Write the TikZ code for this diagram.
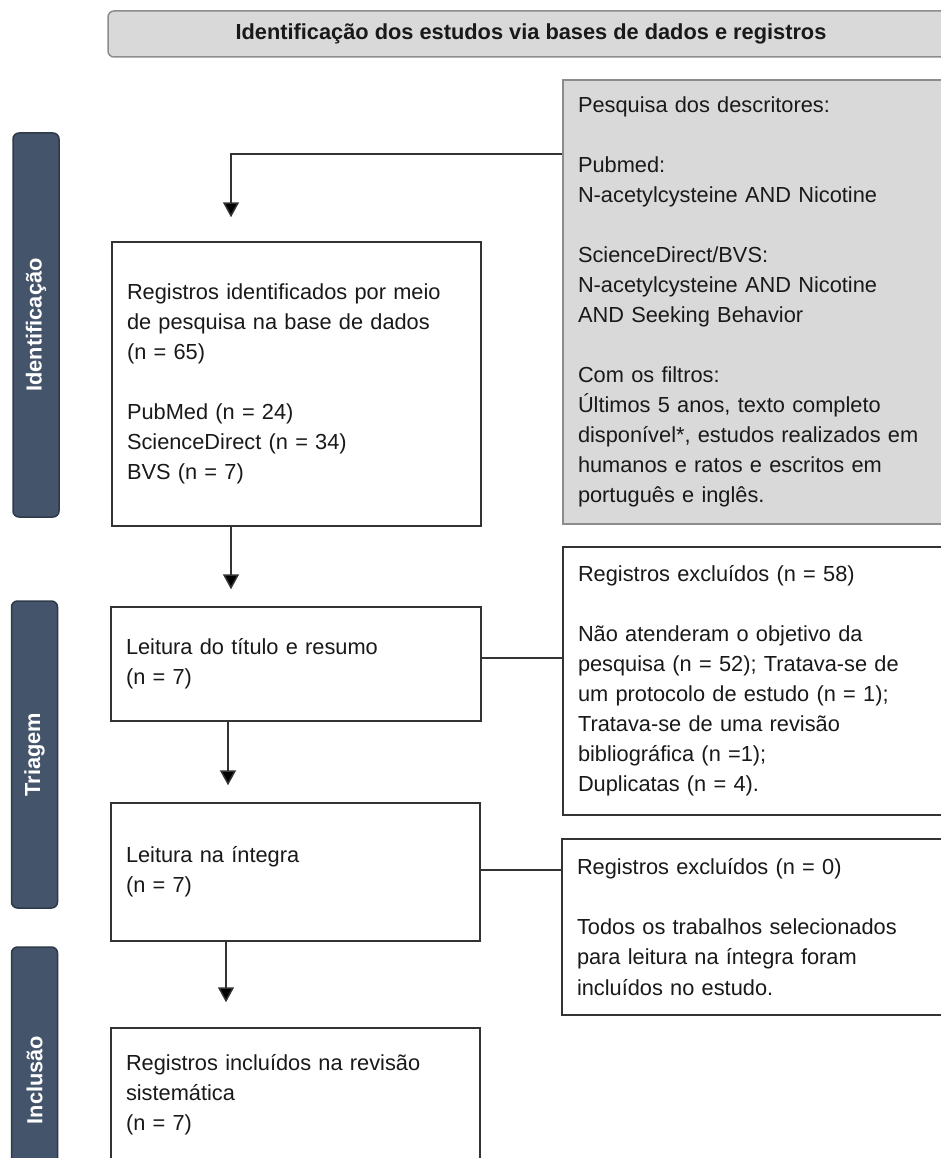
\documentclass[tikz,border=0pt]{standalone}
\usepackage{fontspec}
\setmainfont{Liberation Sans}
\usepackage{xcolor}
\usetikzlibrary{arrows.meta}

\newlength\upx
\setlength\upx{0.02cm}
\definecolor{fasecor}{HTML}{44546A}
\definecolor{fasebord}{HTML}{2E3A4A}
\definecolor{cinza}{HTML}{D9D9D9}
\definecolor{cinzabord}{HTML}{8C8C8C}
\definecolor{borda}{HTML}{333333}

\tikzset{
  texto/.style={font=\fontsize{12.4}{17.1}\selectfont, text=black!90},
  caixa/.style={texto, draw=borda, line width=1.5\upx, fill=white, align=left,
    inner xsep=15\upx, inner ysep=0pt},
  caixacinza/.style={caixa, draw=cinzabord, fill=cinza},
  cabecalho/.style={texto, font=\fontsize{12.4}{17.1}\selectfont\bfseries,
    draw=cinzabord, line width=1.5\upx, fill=cinza, rounded corners=6\upx},
  fase/.style={font=\fontsize{12.4}{17.1}\selectfont\bfseries, text=white,
    draw=fasebord, line width=1.5\upx, fill=fasecor, rounded corners=6\upx,
    rotate=90, minimum height=46\upx},
  linha/.style={draw=borda, line width=1.5\upx},
  seta/.style={linha, -{Triangle[width=0.32cm,length=0.3cm,fill=black]}}
}

\begin{document}
\begin{tikzpicture}[x=0.02cm, y=-0.02cm]
  \useasboundingbox (0,0) rectangle (940,1158);

  \node[cabecalho, minimum width=846\upx, minimum height=46\upx] (cab) at (531,34)
    {Identificação dos estudos via bases de dados e registros};

  % fases
  \node[fase, minimum width=384\upx] (fid) at (36,325) {Identificação};
  \node[fase, minimum width=307\upx] (ftri) at (34.5,754.5) {Triagem};
  \node[fase, minimum width=266\upx] (finc) at (34.5,1080) {Inclusão};

  % caixas
  \node[caixacinza, minimum height=444\upx, text width=357\upx] (desc) at (756.5,302)
    {Pesquisa dos descritores:\\[17.1pt]
     Pubmed:\\
     N-acetylcysteine AND Nicotine\\[17.1pt]
     ScienceDirect/BVS:\\
     N-acetylcysteine AND Nicotine\\
     AND Seeking Behavior\\[17.1pt]
     Com os filtros:\\
     Últimos 5 anos, texto completo\\
     disponível*, estudos realizados em\\
     humanos e ratos e escritos em\\
     português e inglês.};
  \node[caixa, minimum height=284\upx, text width=339\upx] (reg) at (296.5,384)
    {Registros identificados por meio\\
     de pesquisa na base de dados\\
     (n = 65)\\[17.1pt]
     PubMed (n = 24)\\
     ScienceDirect (n = 34)\\
     BVS (n = 7)};
  \node[caixa, minimum height=114\upx, text width=340\upx] (tit) at (296,664)
    {Leitura do título e resumo\\
     (n = 7)};
  \node[caixa, minimum height=268\upx, text width=357\upx] (exc1) at (756.5,681)
    {Registros excluídos (n = 58)\\[17.1pt]
     Não atenderam o objetivo da\\
     pesquisa (n = 52); Tratava-se de\\
     um protocolo de estudo (n = 1);\\
     Tratava-se de uma revisão\\
     bibliográfica (n =1);\\
     Duplicatas (n = 4).};
  \node[caixa, minimum height=138\upx, text width=339\upx] (int) at (295.5,872)
    {Leitura na íntegra\\
     (n = 7)};
  \node[caixa, minimum height=176\upx, text width=358\upx] (exc2) at (756,927)
    {Registros excluídos (n = 0)\\[17.1pt]
     Todos os trabalhos selecionados\\
     para leitura na íntegra foram\\
     incluídos no estudo.};
  \node[caixa, minimum height=134\upx, text width=339\upx] (inc) at (295.5,1095)
    {Registros incluídos na revisão\\
     sistemática\\
     (n = 7)};

  % ligacoes
  \coordinate (p0) at (231,154);
  \coordinate (p1) at (228,720);
  \coordinate (p2) at (226,940);
  \draw[seta, shorten >=0.48cm] (desc.west |- p0) -| (reg.north -| p0);
  \draw[seta, shorten >=0.34cm] (reg.south -| p0) -- (tit.north -| p0);
  \draw[seta, shorten >=0.34cm] (tit.south -| p1) -- (int.north -| p1);
  \draw[seta, shorten >=0.5cm] (int.south -| p2) -- (inc.north -| p2);
  \draw[linha] ([yshift=0.12cm]tit.east) -- ([yshift=0.12cm]tit.east -| exc1.west);
  \draw[linha] ([yshift=0.04cm]int.east) -- ([yshift=0.04cm]int.east -| exc2.west);
\end{tikzpicture}
\end{document}
